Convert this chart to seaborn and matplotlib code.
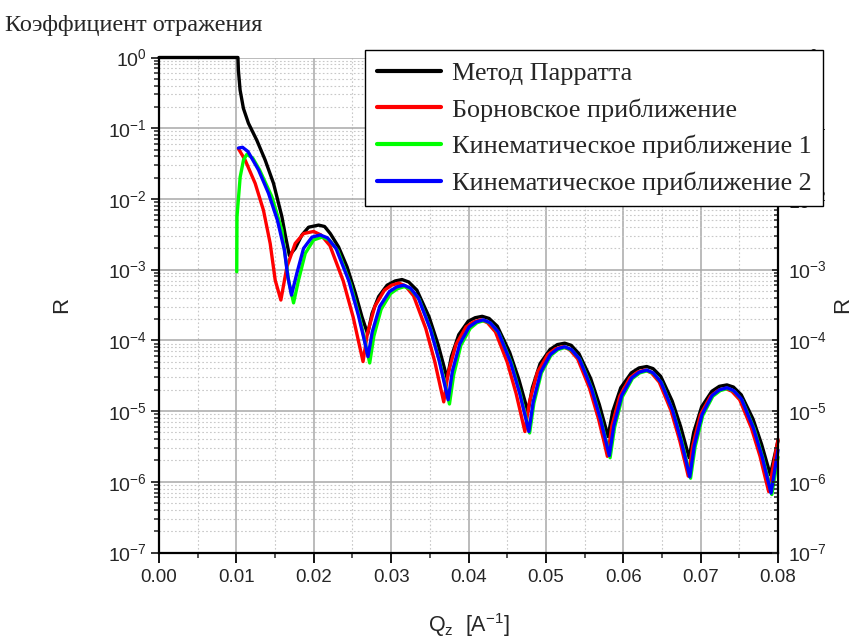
import numpy as np
import pandas as pd
import matplotlib
matplotlib.use("Agg")
import matplotlib.pyplot as plt
import seaborn as sns
from matplotlib.ticker import LogLocator, MultipleLocator, NullFormatter, FormatStrFormatter

# ---------------- data (y stored as log10 R) ----------------
series_names = ["Метод Парратта", "Борновское приближение",
                "Кинематическое приближение 1", "Кинематическое приближение 2"]
series_colors = ["#000000", "#ff0000", "#00ff00", "#0000ff"]

black_q = [0.0, 0.0102, 0.01026, 0.01048, 0.01091, 0.01156, 0.01264, 0.01372, 0.0148, 0.01588, 0.0163, 0.01685,
           0.0176, 0.01847, 0.01933, 0.02063,
           0.0214, 0.02214, 0.02321, 0.0243, 0.02537, 0.02624, 0.02697,
           0.02753, 0.02839, 0.02948, 0.03052, 0.03141,
           0.03228, 0.03333, 0.03491, 0.03607, 0.03683, 0.03724,
           0.03778, 0.03874, 0.03996, 0.04086, 0.04177,
           0.04266, 0.04372, 0.04532, 0.0465, 0.04727, 0.04768,
           0.04825, 0.04925, 0.05053, 0.05148, 0.05243,
           0.05327, 0.05428, 0.05579, 0.05691, 0.05764, 0.05803,
           0.05863, 0.05968, 0.06104, 0.06204, 0.06304,
           0.06386, 0.06485, 0.06633, 0.06742, 0.06814, 0.06852,
           0.06911, 0.07013, 0.07145, 0.07242, 0.0734,
           0.07424, 0.07525, 0.07676, 0.07788, 0.07861, 0.0790,
           0.0800]
black_log10R = [0, 0, -0.18, -0.46, -0.72, -0.93, -1.17, -1.45, -1.78, -2.25, -2.50, -2.80,
                -2.70, -2.51, -2.40, -2.37,
                -2.39, -2.49, -2.68, -2.96, -3.33, -3.67, -3.91,
                -3.62, -3.38, -3.22, -3.16, -3.14,
                -3.175, -3.29, -3.67, -4.06, -4.37, -4.54,
                -4.23, -3.92, -3.73, -3.68, -3.66,
                -3.69, -3.80, -4.17, -4.55, -4.85, -5.01,
                -4.67, -4.33, -4.13, -4.06, -4.04,
                -4.07, -4.19, -4.54, -4.91, -5.20, -5.36,
                -5.01, -4.67, -4.46, -4.39, -4.37,
                -4.40, -4.51, -4.86, -5.22, -5.51, -5.66,
                -5.30, -4.94, -4.72, -4.65, -4.63,
                -4.66, -4.77, -5.11, -5.47, -5.75, -5.90,
                -5.42]

red_q = [0.01027, 0.01113, 0.01243, 0.0135, 0.01437, 0.01502, 0.01575,
         0.01653, 0.0176, 0.01868, 0.01998,
         0.02094, 0.02209, 0.02381, 0.02509, 0.02592, 0.02637,
         0.02692, 0.02789, 0.02914, 0.03006, 0.03098,
         0.03185, 0.0329, 0.03447, 0.03564, 0.03639, 0.0368,
         0.03738, 0.03838, 0.03968, 0.04064, 0.0416,
         0.04245, 0.04348, 0.04501, 0.04615, 0.04689, 0.04729,
         0.04788, 0.04891, 0.05024, 0.05122, 0.0522,
         0.05306, 0.0541, 0.05565, 0.0568, 0.05755, 0.05795,
         0.05853, 0.05955, 0.06086, 0.06183, 0.0628,
         0.06364, 0.06465, 0.06616, 0.06728, 0.06801, 0.0684,
         0.06898, 0.06998, 0.07128, 0.07224, 0.0732,
         0.07404, 0.07505, 0.07656, 0.07768, 0.07841, 0.0788,
         0.0800]
red_log10R = [-1.29, -1.45, -1.78, -2.16, -2.63, -3.15, -3.43,
              -2.96, -2.63, -2.49, -2.46,
              -2.51, -2.66, -3.16, -3.67, -4.08, -4.30,
              -3.91, -3.52, -3.29, -3.22, -3.19,
              -3.23, -3.37, -3.83, -4.30, -4.67, -4.87,
              -4.46, -4.06, -3.81, -3.74, -3.71,
              -3.75, -3.88, -4.31, -4.75, -5.10, -5.29,
              -4.87, -4.45, -4.20, -4.12, -4.09,
              -4.13, -4.26, -4.68, -5.11, -5.45, -5.64,
              -5.21, -4.79, -4.53, -4.45, -4.42,
              -4.46, -4.59, -4.99, -5.41, -5.74, -5.92,
              -5.49, -5.05, -4.79, -4.71, -4.68,
              -4.72, -4.84, -5.24, -5.64, -5.97, -6.14,
              -5.40]

green_q = [0.01005, 0.01008, 0.01049, 0.01092, 0.01135, 0.0121, 0.0130, 0.01459, 0.01588, 0.01674, 0.01739,
           0.01803, 0.0189, 0.01998, 0.02106,
           0.02199, 0.0231, 0.02476, 0.026, 0.0268, 0.02723,
           0.02777, 0.02871, 0.02991, 0.03081, 0.0317,
           0.03258, 0.03363, 0.0352, 0.03637, 0.03713, 0.03754,
           0.03808, 0.03901, 0.04022, 0.04111, 0.0420,
           0.04289, 0.04395, 0.04554, 0.04672, 0.04749, 0.0479,
           0.04845, 0.04942, 0.05066, 0.05158, 0.0525,
           0.05337, 0.05441, 0.05598, 0.05714, 0.05789, 0.0583,
           0.05888, 0.05988, 0.06118, 0.06214, 0.0631,
           0.06394, 0.06495, 0.06646, 0.06758, 0.06831, 0.0687,
           0.06928, 0.07028, 0.07158, 0.07254, 0.0735,
           0.07436, 0.07538, 0.07692, 0.07806, 0.0788, 0.0792,
           0.0800]
green_log10R = [-3.03, -2.25, -1.69, -1.45, -1.37, -1.42, -1.59, -1.97, -2.44, -3.15, -3.47,
                -3.15, -2.77, -2.58, -2.54,
                -2.58, -2.73, -3.21, -3.71, -4.11, -4.32,
                -3.94, -3.56, -3.34, -3.27, -3.24,
                -3.28, -3.42, -3.87, -4.34, -4.70, -4.90,
                -4.49, -4.07, -3.83, -3.75, -3.72,
                -3.76, -3.90, -4.32, -4.77, -5.12, -5.31,
                -4.89, -4.46, -4.21, -4.13, -4.10,
                -4.14, -4.27, -4.69, -5.13, -5.47, -5.66,
                -5.23, -4.80, -4.54, -4.46, -4.43,
                -4.47, -4.60, -5.01, -5.43, -5.77, -5.95,
                -5.51, -5.06, -4.79, -4.71, -4.68,
                -4.72, -4.85, -5.25, -5.67, -6.00, -6.18,
                -5.65]

blue_q = [0.01027, 0.0108, 0.0115, 0.01286, 0.01415, 0.0153, 0.0162, 0.01665, 0.01712,
          0.01782, 0.01868, 0.01977, 0.02084,
          0.02177, 0.02288, 0.02454, 0.02578, 0.02658, 0.02701,
          0.02756, 0.02853, 0.02978, 0.0307, 0.03163,
          0.03249, 0.03352, 0.03507, 0.03622, 0.03697, 0.03737,
          0.03791, 0.03887, 0.04009, 0.04099, 0.0419,
          0.04279, 0.04385, 0.04544, 0.04662, 0.04739, 0.0478,
          0.04836, 0.04933, 0.05058, 0.0515, 0.05243,
          0.0533, 0.05433, 0.05589, 0.05705, 0.0578, 0.0582,
          0.05878, 0.0598, 0.0611, 0.06207, 0.06304,
          0.06387, 0.06487, 0.06638, 0.06749, 0.06821, 0.0686,
          0.06918, 0.07018, 0.07148, 0.07244, 0.0734,
          0.07426, 0.07528, 0.07682, 0.07796, 0.0787, 0.0791,
          0.0800]
blue_log10R = [-1.28, -1.27, -1.33, -1.59, -1.92, -2.30, -2.72, -3.10, -3.36,
               -3.05, -2.70, -2.54, -2.51,
               -2.55, -2.70, -3.16, -3.65, -4.02, -4.23,
               -3.88, -3.52, -3.31, -3.245, -3.22,
               -3.26, -3.40, -3.84, -4.29, -4.65, -4.84,
               -4.44, -4.05, -3.81, -3.74, -3.71,
               -3.75, -3.88, -4.31, -4.75, -5.10, -5.29,
               -4.87, -4.45, -4.20, -4.12, -4.09,
               -4.13, -4.26, -4.68, -5.11, -5.45, -5.63,
               -5.21, -4.78, -4.53, -4.45, -4.42,
               -4.46, -4.59, -4.99, -5.42, -5.75, -5.93,
               -5.49, -5.05, -4.78, -4.70, -4.67,
               -4.71, -4.83, -5.24, -5.65, -5.98, -6.16,
               -5.55]

x_ticks = [0.00, 0.01, 0.02, 0.03, 0.04, 0.05, 0.06, 0.07, 0.08]
title_text = "Коэффициент отражения"
x_label = r"Q$_\mathregular{z}$  [A$^\mathregular{-1}$]"
y_label = "R"

# ---------------- style ----------------
sns.set_style("white")
plt.rcParams["font.family"] = ["Liberation Sans", "DejaVu Sans"]
plt.rcParams["mathtext.fontset"] = "custom"
plt.rcParams["mathtext.rm"] = "Liberation Sans"
plt.rcParams["mathtext.it"] = "Liberation Sans:italic"
plt.rcParams["mathtext.bf"] = "Liberation Sans:bold"
plt.rcParams["axes.unicode_minus"] = False

W, H = 855, 640
fig = plt.figure(figsize=(W / 100, H / 100), dpi=100)
fig.patch.set_facecolor("white")
L, R, T, B = 159, 778, 57.5, 552.5
ax = fig.add_axes([L / W, 1 - B / H, (R - L) / W, (B - T) / H])

frames = []
for name, q, lg in zip(series_names,
                       [black_q, red_q, green_q, blue_q],
                       [black_log10R, red_log10R, green_log10R, blue_log10R]):
    frames.append(pd.DataFrame({"Q": q, "R": np.power(10.0, lg), "series": name}))
df = pd.concat(frames, ignore_index=True)

for name, col in zip(series_names, series_colors):
    sub = df[df["series"] == name]
    sns.lineplot(data=sub, x="Q", y="R", ax=ax, color=col, lw=2.4,
                 sort=False, estimator=None, label=name)
for ln in ax.get_lines():
    ln.set_clip_on(False)
    ln.set_solid_joinstyle("round")

ax.set_yscale("log")
ax.set_xlim(0, 0.08)
ax.set_ylim(1e-7, 1)
ax.set_xticks(x_ticks)
ax.xaxis.set_minor_locator(MultipleLocator(0.005))
ax.xaxis.set_major_formatter(FormatStrFormatter("%.2f"))
ax.yaxis.set_major_locator(LogLocator(base=10, numticks=20))
ax.yaxis.set_minor_locator(LogLocator(base=10, subs=np.arange(2, 10), numticks=20))
ax.yaxis.set_minor_formatter(NullFormatter())

ax.set_axisbelow(True)
ax.grid(True, which="major", color="#a8a8a8", lw=1.1, ls="-")
ax.grid(True, which="minor", color="#c8c8c8", lw=0.8, ls=(0, (1.5, 2.0)))

ax.tick_params(axis="x", which="major", direction="out", length=7, width=1.3,
               labelsize=13.5, pad=5, color="black")
ax.tick_params(axis="x", which="minor", direction="out", length=3.8, width=1.1)
ax.tick_params(axis="y", which="major", direction="out", length=5.5, width=1.3,
               labelsize=14, pad=3)
ax.tick_params(axis="y", which="minor", direction="out", length=3.5, width=1.1)
ax.tick_params(which="both", bottom=True, left=True)

for s in ["top", "right"]:
    ax.spines[s].set_visible(False)
for s in ["left", "bottom"]:
    ax.spines[s].set_color("black")
    ax.spines[s].set_linewidth(1.6)

ax.set_xlabel(x_label, fontsize=15.5, labelpad=18)
ax.set_ylabel(y_label, fontsize=16, labelpad=26)

# right axis (mirror)
ax2 = ax.twinx()
ax2.set_yscale("log")
ax2.set_ylim(1e-7, 1)
ax2.yaxis.set_major_locator(LogLocator(base=10, numticks=20))
ax2.yaxis.set_minor_locator(LogLocator(base=10, subs=np.arange(2, 10), numticks=20))
ax2.yaxis.set_minor_formatter(NullFormatter())
ax2.grid(False)
for s in ["top", "left", "bottom"]:
    ax2.spines[s].set_visible(False)
ax2.spines["right"].set_color("black")
ax2.spines["right"].set_linewidth(1.6)
ax2.tick_params(axis="y", which="major", direction="in", length=4.5, width=1.3,
                labelsize=14, pad=7, right=True)
ax2.tick_params(axis="y", which="minor", direction="in", length=3.0, width=1.1, right=True)
ax2.set_ylabel(y_label, fontsize=16, labelpad=4)

# legend
handles, labels = ax.get_legend_handles_labels()
if ax.get_legend() is not None:
    ax.get_legend().remove()
leg = fig.legend(handles, labels, loc="upper right",
                 bbox_to_anchor=(823 / W, 1 - 50 / H), bbox_transform=fig.transFigure,
                 frameon=True, fancybox=False, framealpha=1, edgecolor="black",
                 prop={"family": "Liberation Serif", "size": 18.8},
                 handlelength=2.45, handletextpad=0.4, labelspacing=0.5,
                 borderpad=0.45, borderaxespad=0)
leg.get_frame().set_linewidth(1.0)
for lh in leg.get_lines():
    lh.set_linewidth(3.0)

fig.text(5 / W, 1 - 25 / H, title_text, family=["Liberation Serif", "DejaVu Serif"],
         fontsize=17.5, ha="left", va="center")

fig.savefig("out.png", dpi=100, facecolor="white")
